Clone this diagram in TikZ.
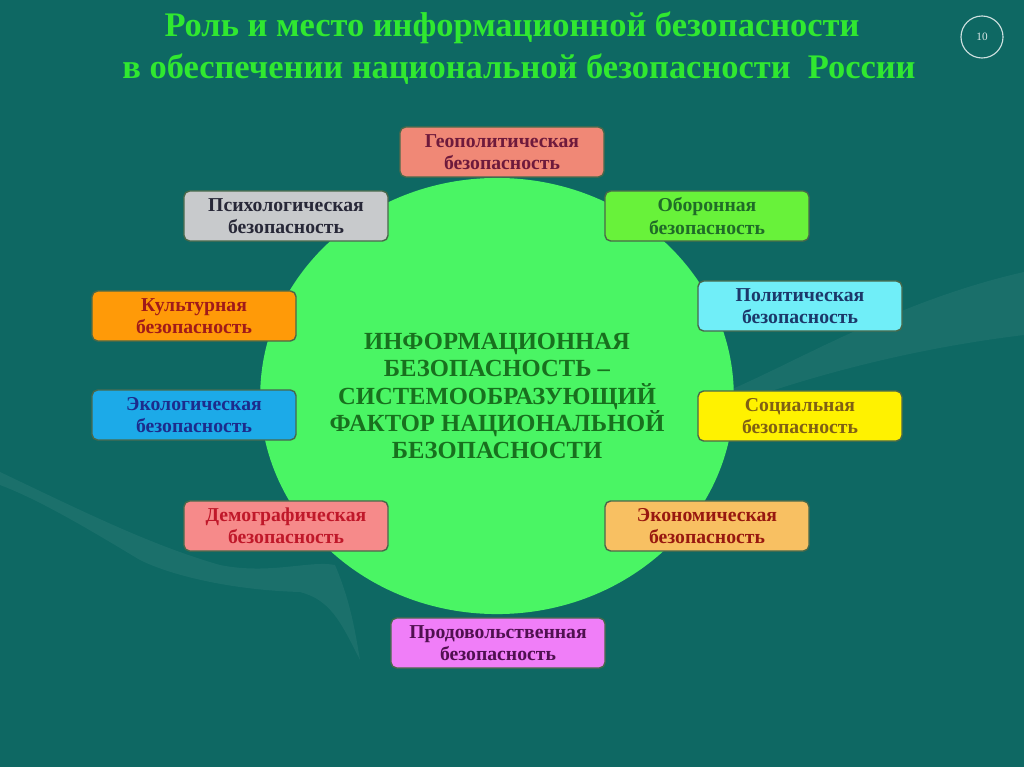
\documentclass[tikz,border=0pt]{standalone}
\usepackage{fontspec}
\setmainfont{Liberation Serif}
\usetikzlibrary{shapes.geometric}

\definecolor{bgteal}{RGB}{14,104,99}
\definecolor{titlegreen}{RGB}{48,232,48}
\definecolor{corefill}{RGB}{74,245,100}
\definecolor{coretext}{RGB}{24,112,30}
\definecolor{boxline}{RGB}{72,104,74}

\definecolor{geofill}{RGB}{240,136,118}   \definecolor{geotext}{RGB}{110,26,60}
\definecolor{psyfill}{RGB}{200,202,204}   \definecolor{psytext}{RGB}{40,40,56}
\definecolor{deffill}{RGB}{104,242,58}    \definecolor{deftext}{RGB}{32,108,40}
\definecolor{polfill}{RGB}{112,238,248}   \definecolor{poltext}{RGB}{28,56,106}
\definecolor{culfill}{RGB}{255,154,8}     \definecolor{cultext}{RGB}{160,26,26}
\definecolor{ecofill}{RGB}{28,170,232}    \definecolor{ecotext}{RGB}{28,44,140}
\definecolor{socfill}{RGB}{255,242,0}     \definecolor{soctext}{RGB}{128,96,20}
\definecolor{demfill}{RGB}{246,138,138}   \definecolor{demtext}{RGB}{192,24,42}
\definecolor{econfill}{RGB}{248,192,98}   \definecolor{econtext}{RGB}{152,24,16}
\definecolor{foodfill}{RGB}{240,126,248}  \definecolor{foodtext}{RGB}{80,16,80}

\tikzset{
  area/.style={rectangle, rounded corners=4pt, draw=boxline, line width=1pt,
    minimum width=5.1cm, minimum height=1.25cm, inner sep=0pt, align=center,
    font=\fontsize{14}{16}\selectfont\bfseries},
  title/.style={font=\fontsize{24.5}{30}\selectfont\bfseries, text=titlegreen,
    inner sep=0pt, anchor=base},
}

\begin{document}
\begin{tikzpicture}[x=0.025cm, y=-0.025cm]
    \useasboundingbox (0,0) rectangle (1024,767);
    \fill[bgteal] (0,0) rectangle (1024,767);

    % faint swooshes in the background
    \fill[white, opacity=0.05] (730,390) .. controls (800,360) and (900,300) .. (1024,272)
        -- (1024,335) .. controls (900,350) and (800,380) .. (730,405) -- cycle;
    \fill[white, opacity=0.055] (0,472) .. controls (80,510) and (150,545) .. (220,565)
        .. controls (270,575) and (310,560) .. (335,565)
        .. controls (350,600) and (355,630) .. (360,660)
        .. controls (340,620) and (330,600) .. (300,592)
        .. controls (230,590) and (170,575) .. (140,560)
        .. controls (90,530) and (40,500) .. (0,485) -- cycle;

    \node[title] (title1) at (512,37) {Роль и место информационной безопасности};
    \node[title] (title2) at (519,79) {в обеспечении национальной безопасности\ \ России};

    \node[circle, draw=white!80!bgteal, line width=0.8pt, minimum size=1.05cm,
          text=white!85!bgteal, font=\fontsize{8}{9}\selectfont] (page) at (982,37) {10};

    \node[ellipse, fill=corefill, minimum width=11.6cm, minimum height=10.9cm,
          inner sep=0pt, align=center, text=coretext,
          font=\fontsize{17.5}{19.5}\selectfont\bfseries] (core) at (497,396)
          {ИНФОРМАЦИОННАЯ\\БЕЗОПАСНОСТЬ –\\СИСТЕМООБРАЗУЮЩИЙ\\ФАКТОР НАЦИОНАЛЬНОЙ\\БЕЗОПАСНОСТИ};

    \node[area, fill=geofill, text=geotext] (geo) at (502,152) {Геополитическая\\безопасность};
    \node[area, fill=psyfill, text=psytext] (psy) at (286,216) {Психологическая\\безопасность};
    \node[area, fill=deffill, text=deftext] (def) at (707,216) {Оборонная\\безопасность};
    \node[area, fill=polfill, text=poltext] (pol) at (800,306) {Политическая\\безопасность};
    \node[area, fill=culfill, text=cultext] (cul) at (194,316) {Культурная\\безопасность};
    \node[area, fill=ecofill, text=ecotext] (eco) at (194,415) {Экологическая\\безопасность};
    \node[area, fill=socfill, text=soctext] (soc) at (800,416) {Социальная\\безопасность};
    \node[area, fill=demfill, text=demtext] (dem) at (286,526) {Демографическая\\безопасность};
    \node[area, fill=econfill, text=econtext] (econ) at (707,526) {Экономическая\\безопасность};
    \node[area, fill=foodfill, text=foodtext, minimum width=5.35cm] (food) at (498,643) {Продовольственная\\безопасность};
\end{tikzpicture}
\end{document}
